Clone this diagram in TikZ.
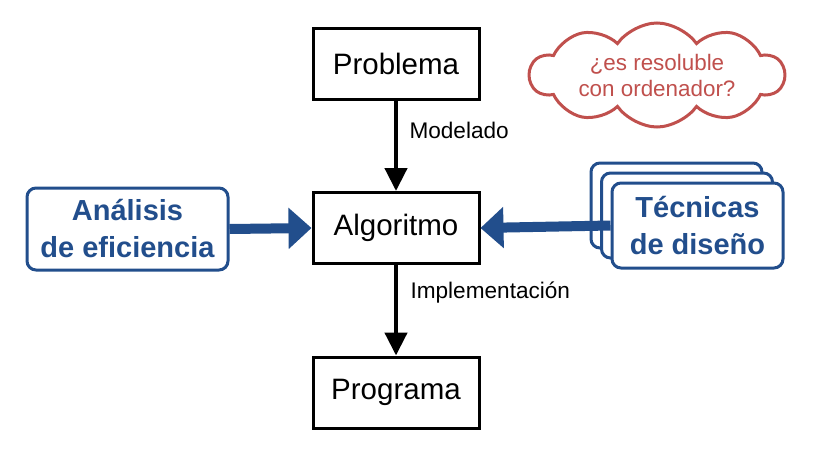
\documentclass[tikz,border=0pt]{standalone}
\usepackage{fontspec}
\setmainfont{Liberation Sans}
\usetikzlibrary{arrows.meta}
\usetikzlibrary{shapes.symbols}
\usetikzlibrary{calc}
\definecolor{techblue}{RGB}{34,78,140}
\definecolor{cloudred}{RGB}{192,80,77}

\begin{document}
\begin{tikzpicture}[x=1pt, y=-1pt,
    step box/.style={draw, line width=3pt, fill=white, minimum width=166pt, minimum height=71pt, font=\fontsize{29.5}{35}\selectfont},
    side box/.style={draw=techblue, line width=3pt, fill=white, rounded corners=9pt, text=techblue, align=center, font=\fontsize{29}{37}\selectfont\bfseries},
    flow/.style={line width=4.5pt, -{Triangle[width=22pt, length=23pt]}},
    feed/.style={draw=techblue, line width=10pt, -{Triangle[width=40pt, length=23pt]}, techblue},
    small label/.style={anchor=west, font=\fontsize{22.6}{26}\selectfont}]
        \useasboundingbox (0,0) rectangle (822,453);

        \node [step box] (problema) at (396, 63.5) {Problema};
        \node [step box] (algoritmo) at (396, 228) {Algoritmo};
        \node [step box] (programa) at (396, 392.5) {Programa};

        \node [side box, minimum width=201pt, minimum height=82pt] (analisis) at (127.5, 229) {Análisis\\de eficiencia};

        % pila de tarjetas detras de la tecnica
        \foreach \k in {2, 1} {
          \node [side box, minimum width=171pt, minimum height=85pt] (tec\k) at ($(697.5, 225.5) + (-10.5*\k, -10*\k)$) {};
        }
        \node [side box, minimum width=171pt, minimum height=85pt] (tecnicas) at (697.5, 225.5) {Técnicas\\de diseño};

        \draw [flow] (problema) -- (algoritmo);
        \draw [flow] (algoritmo) -- (programa);
        \node [small label] (modelado) at (406, 130) {Modelado};
        \node [small label] (implementacion) at (407, 293) {Implementación};

        \draw [feed] (analisis.east) -- (algoritmo.west);
        \draw [feed] (tecnicas.west) -- (algoritmo.east);

        \node [cloud, cloud puffs=10, cloud puff arc=110, cloud ignores aspect, draw=cloudred, line width=3pt, fill=white, minimum width=254pt, minimum height=104pt, inner sep=0pt, text=cloudred, align=center, font=\fontsize{22.4}{26}\selectfont] (pregunta) at (657, 75) {¿es resoluble\\con ordenador?};
\end{tikzpicture}
\end{document}
